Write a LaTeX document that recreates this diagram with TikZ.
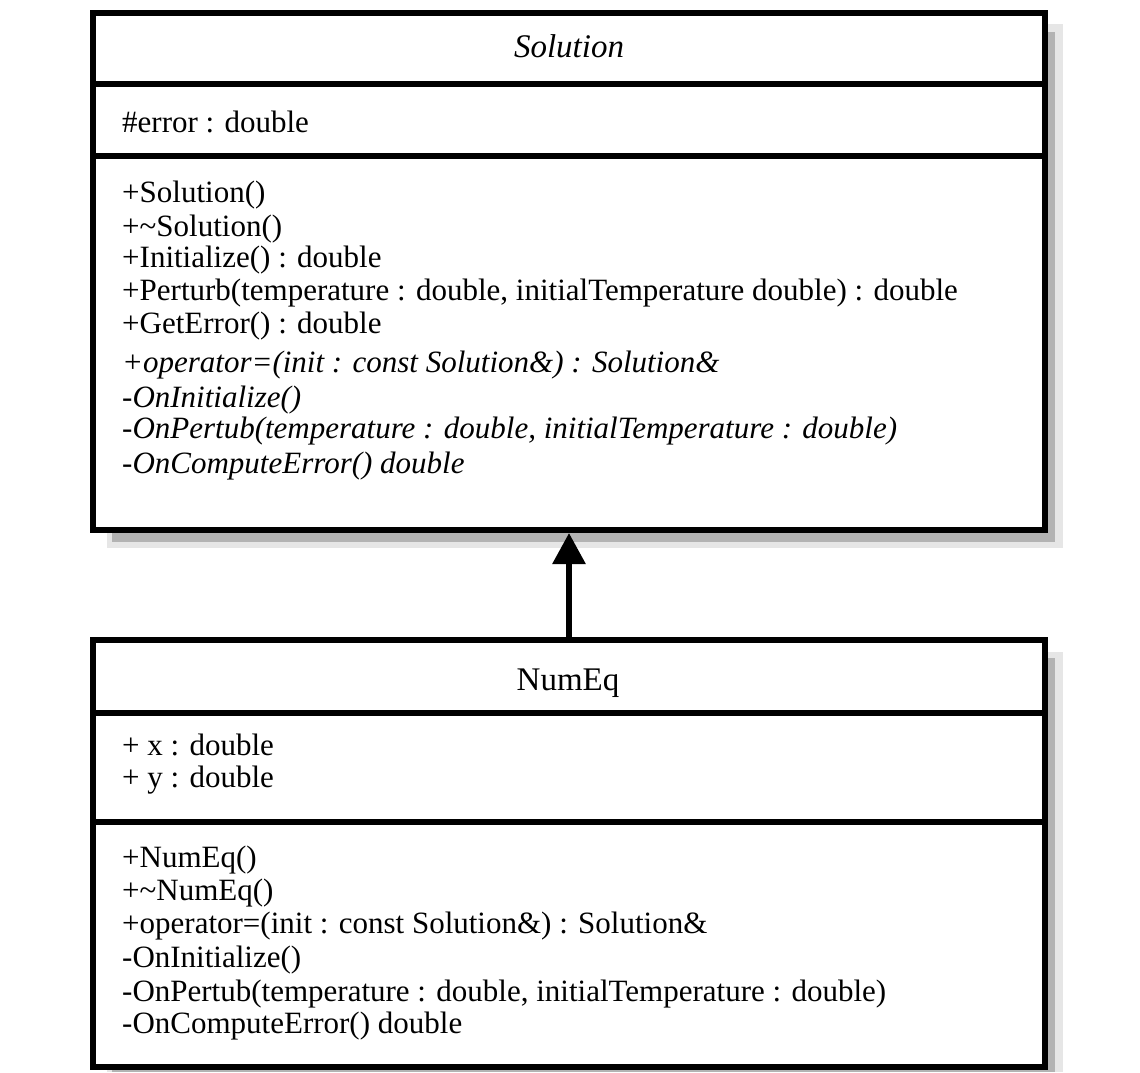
\documentclass[tikz,border=0pt]{standalone}
\usepackage{fontspec}
\setmainfont{Liberation Serif}
\usetikzlibrary{arrows.meta}
\definecolor{shadowlight}{HTML}{E6E6E6}
\definecolor{shadowdark}{HTML}{B3B3B3}
\begin{document}
\begin{tikzpicture}[x=1pt,y=-1pt,
  classbox/.style={rectangle, draw=black, line width=6pt, fill=white, inner sep=0pt},
  divider/.style={draw=black, line width=6pt},
  shlight/.style={fill=shadowlight, draw=none},
  shdark/.style={fill=shadowdark, draw=none},
  txt/.style={anchor=base west, inner sep=0pt, font=\fontsize{31}{36}\selectfont},
  itxt/.style={txt, font=\fontsize{31}{36}\selectfont\itshape},
  ttl/.style={anchor=base, inner sep=0pt, font=\fontsize{33}{40}\selectfont},
  inherit/.style={draw=black, line width=6pt, -{Triangle[width=32pt,length=31pt]}}
]
\useasboundingbox (0,0) rectangle (1140,1072);
% shadows
\path[shlight] (107,24) rectangle (1063,548);
\path[shdark] (112,32) rectangle (1055,542);
\path[shlight] (107,652) rectangle (1063,1072);
\path[shdark] (112,658) rectangle (1055,1072);
% class boxes
\node[classbox, minimum width=952pt, minimum height=517pt] (sol) at (569,271.5) {};
\node[classbox, minimum width=952pt, minimum height=427pt] (num) at (569,853.5) {};
% compartment dividers
\path[divider] (90,84) -- (1048,84);
\path[divider] (90,156) -- (1048,156);
\path[divider] (90,713) -- (1048,713);
\path[divider] (90,822) -- (1048,822);
% generalization
\draw[inherit] (num.north) -- (sol.south);
% Solution texts
\node[ttl, font=\fontsize{33}{40}\selectfont\itshape] (soltitle) at (569,57) {Solution};
\node[txt] (sa1) at (122,132) {\#error : double};
\node[txt] (sm1) at (122,202) {+Solution()};
\node[txt] (sm2) at (122,236) {+\textasciitilde Solution()};
\node[txt] (sm3) at (122,267) {+Initialize() : double};
\node[txt] (sm4) at (122,300) {+Perturb(temperature : double, initialTemperature double) : double};
\node[txt] (sm5) at (122,333) {+GetError() : double};
\node[itxt] (sm6) at (122,372) {+operator=(init : const Solution\&) : Solution\&};
\node[itxt] (sm7) at (122,407) {-OnInitialize()};
\node[itxt] (sm8) at (122,438) {-OnPertub(temperature : double, initialTemperature : double)};
\node[itxt] (sm9) at (122,473) {-OnComputeError() double};
% NumEq texts
\node[ttl] (numtitle) at (568,690) {NumEq};
\node[txt] (na1) at (122,755) {+ x : double};
\node[txt] (na2) at (122,787) {+ y : double};
\node[txt] (nm1) at (122,867) {+NumEq()};
\node[txt] (nm2) at (122,900) {+\textasciitilde NumEq()};
\node[txt] (nm3) at (122,933) {+operator=(init : const Solution\&) : Solution\&};
\node[txt] (nm4) at (122,967) {-OnInitialize()};
\node[txt] (nm5) at (122,1001) {-OnPertub(temperature : double, initialTemperature : double)};
\node[txt] (nm6) at (122,1033) {-OnComputeError() double};
\end{tikzpicture}
\end{document}
